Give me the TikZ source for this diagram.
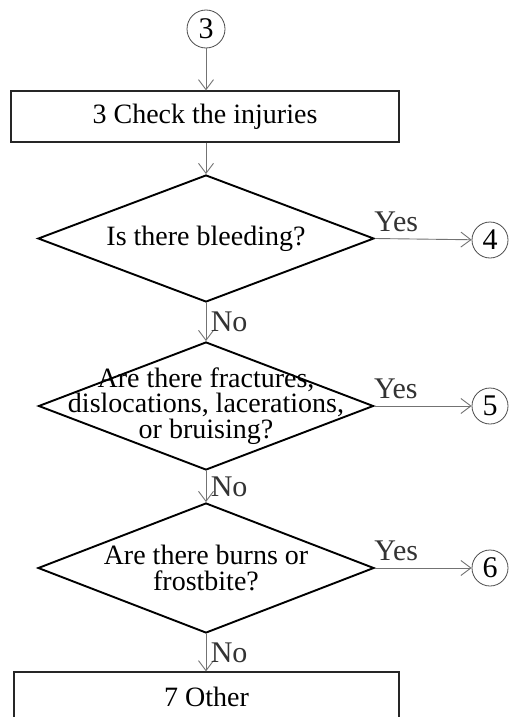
\documentclass[tikz,border=0pt]{standalone}
\usepackage{fontspec}
\setmainfont{Liberation Serif}
\usetikzlibrary{arrows.meta,shapes.geometric}

\begin{document}
\begin{tikzpicture}[x=1pt,y=-1pt,
	conn/.style={-{Straight Barb[length=10pt,width=15pt,line width=0.9pt]},line width=0.9pt,black!55},
	stepbox/.style={draw=black!85,line width=1.3pt,rectangle,inner sep=0pt,font=\fontsize{28}{25.5}\selectfont},
	decision/.style={draw=black,line width=1.9pt,diamond,inner sep=0pt},
	dtext/.style={align=center,inner sep=0pt,font=\fontsize{28}{25.5}\selectfont},
	link/.style={draw=black!70,line width=0.8pt,circle,minimum size=38pt,inner sep=0pt,font=\fontsize{30}{30}\selectfont},
	yn/.style={font=\fontsize{30}{30}\selectfont,text=black!80}
	]
		\clip (0,0) rectangle (509,717);
		\fill[white] (0,0) rectangle (509,717);
		\node[link] (c3) at (206,29) {3};
		\node[stepbox,minimum width=388pt,minimum height=51pt] (box1) at (205,116.5) {3 Check the injuries};
		\node[decision,minimum width=336pt,minimum height=127pt] (d1) at (206,238.5) {};
		\node[dtext] at (d1) {Is there bleeding?};
		\node[decision,minimum width=335pt,minimum height=128pt] (d2) at (206,406) {};
		\node[dtext] at (d2) {Are there fractures,\\dislocations, lacerations,\\or bruising?};
		\node[decision,minimum width=336pt,minimum height=130pt] (d3) at (206,568) {};
		\node[dtext] at (d3) {Are there burns or\\frostbite?};
		\node[stepbox,minimum width=385pt,minimum height=50pt] (box7) at (206.5,697) {7 Other};
		\node[link,minimum size=36pt] (c4) at (490,240) {4};
		\node[link,minimum size=36pt] (c5) at (490,406) {5};
		\node[link,minimum size=36pt] (c6) at (490,568) {6};
		\draw[conn] (c3) -- (c3 |- box1.north);
		\draw[conn] (box1.south -| d1.north) -- (d1.north);
		\draw[conn] (d1.south) -- (d2.north) node[midway,right=1pt,yn] {No};
		\draw[conn] (d2.south) -- (d3.north) node[midway,right=1pt,yn] {No};
		\draw[conn] (d3.south) -- (d3.south |- box7.north) node[midway,right=1pt,yn] {No};
		\draw[conn] (d1.east) -- (c4) node[pos=0.22,above=3pt,yn] {Yes};
		\draw[conn] (d2.east) -- (c5) node[pos=0.22,above=3pt,yn] {Yes};
		\draw[conn] (d3.east) -- (c6) node[pos=0.22,above=3pt,yn] {Yes};
\end{tikzpicture}
\end{document}
